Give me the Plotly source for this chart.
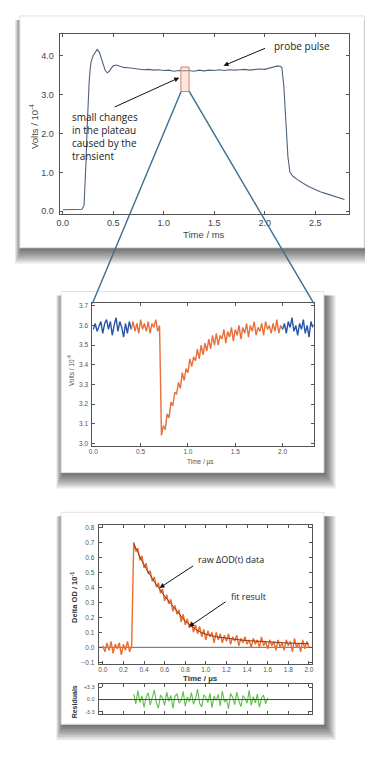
import plotly.graph_objects as go

W, H = 373, 759

# ---------------- data ----------------
# Panel 1: probe pulse (time in ms, volts / 1e-4)
pulse_t = [0.0, 0.05, 0.10, 0.15, 0.19, 0.21, 0.22, 0.23, 0.24, 0.25, 0.26, 0.27, 0.28, 0.30, 0.32,
           0.34, 0.36, 0.38, 0.40, 0.42, 0.44, 0.46, 0.48, 0.50, 0.53, 0.56, 0.60, 0.65, 0.70, 0.75,
           0.80, 0.85, 0.90, 0.95, 1.00, 1.05, 1.10, 1.15, 1.20, 1.25, 1.30, 1.35, 1.40, 1.45, 1.50,
           1.55, 1.60, 1.65, 1.70, 1.75, 1.80, 1.85, 1.90, 1.95, 2.00, 2.05, 2.10, 2.13, 2.15, 2.17,
           2.19, 2.21, 2.23, 2.25, 2.28, 2.32, 2.36, 2.40, 2.45, 2.50, 2.55, 2.60, 2.65, 2.70, 2.75, 2.79]
pulse_v = [0.04, 0.04, 0.04, 0.04, 0.05, 0.15, 0.60, 1.30, 2.10, 2.80, 3.30, 3.65, 3.85, 4.00, 4.10,
           4.16, 4.10, 3.95, 3.75, 3.62, 3.56, 3.60, 3.68, 3.74, 3.76, 3.73, 3.70, 3.69, 3.67, 3.66,
           3.64, 3.65, 3.63, 3.64, 3.62, 3.63, 3.60, 3.62, 3.61, 3.62, 3.60, 3.63, 3.61, 3.63, 3.62,
           3.64, 3.62, 3.64, 3.63, 3.64, 3.65, 3.63, 3.65, 3.66, 3.65, 3.68, 3.72, 3.74, 3.73, 3.70,
           3.20, 2.30, 1.40, 1.00, 0.90, 0.82, 0.75, 0.69, 0.62, 0.55, 0.50, 0.46, 0.42, 0.38, 0.35, 0.30]

# Panel 2: zoomed transient (time in us, step 0.02)
zoom_step = 0.02
pre_blue_t0 = 0.0
pre_blue_v = [3.58, 3.61, 3.57, 3.60, 3.62, 3.56, 3.61, 3.63, 3.58, 3.62, 3.55, 3.60, 3.64, 3.57,
              3.62, 3.59, 3.54, 3.61, 3.56, 3.62, 3.58]
orange_t0 = 0.40
orange_v = [3.58, 3.62, 3.57, 3.61, 3.56, 3.63, 3.58, 3.61, 3.57, 3.62, 3.56, 3.61, 3.59, 3.63, 3.57, 3.60,
            3.04, 3.09, 3.07, 3.15, 3.13, 3.21, 3.19, 3.26, 3.25, 3.31, 3.28, 3.36, 3.32, 3.38, 3.36,
            3.43, 3.39, 3.44, 3.42, 3.48, 3.43, 3.50, 3.45, 3.51, 3.47, 3.53, 3.48, 3.55, 3.50, 3.56,
            3.50, 3.55, 3.53, 3.58, 3.51, 3.57, 3.54, 3.59, 3.52, 3.58, 3.55, 3.60, 3.53, 3.59, 3.56,
            3.61, 3.54, 3.60, 3.57, 3.62, 3.55, 3.59, 3.57, 3.61, 3.55, 3.62, 3.58, 3.60, 3.56, 3.61,
            3.57, 3.63, 3.56, 3.60, 3.58]
post_blue_t0 = 2.00
post_blue_v = [3.58, 3.61, 3.56, 3.62, 3.59, 3.64, 3.57, 3.60, 3.55, 3.61, 3.58, 3.63, 3.56, 3.60, 3.54,
               3.62, 3.59]

# Panel 3: delta OD / 1e-1 (time in us, step 0.02)
od_step = 0.02
od_t0 = 0.0
od_raw = [0.01, -0.03, 0.03, -0.02, 0.04, -0.04, 0.02, -0.01, 0.03, -0.05, 0.02, -0.02, 0.04, -0.03, 0.01,
          0.70, 0.64, 0.66, 0.58, 0.61, 0.53, 0.56, 0.49, 0.51, 0.44, 0.47, 0.40, 0.43, 0.36, 0.39,
          0.31, 0.35, 0.29, 0.32, 0.24, 0.28, 0.22, 0.25, 0.17, 0.22, 0.15, 0.19, 0.13, 0.17, 0.10,
          0.15, 0.09, 0.14, 0.07, 0.12, 0.05, 0.11, 0.07, 0.10, 0.03, 0.10, 0.05, 0.09, 0.03, 0.08,
          0.04, 0.09, 0.02, 0.07, 0.04, 0.08, 0.01, 0.06, 0.03, 0.07, 0.02, 0.05, 0.00, 0.06, 0.02,
          0.05, 0.00, 0.07, 0.01, 0.04, -0.01, 0.05, 0.01, 0.04, -0.02, 0.05, 0.00, 0.03, -0.02, 0.05,
          0.01, 0.04, -0.03, 0.06, 0.00, 0.03, -0.03, 0.05, -0.01, 0.04, 0.00]
fit_t = [0.30, 0.34, 0.38, 0.42, 0.46, 0.50, 0.55, 0.60, 0.65, 0.70, 0.75, 0.80, 0.85, 0.90, 0.95,
         1.00, 1.10, 1.20, 1.30, 1.40, 1.50, 1.60, 1.70, 1.80, 1.90, 2.00]
fit_v = [0.69, 0.63, 0.575, 0.525, 0.475, 0.435, 0.39, 0.34, 0.30, 0.255, 0.215, 0.175, 0.145, 0.12, 0.10,
         0.087, 0.07, 0.06, 0.052, 0.045, 0.04, 0.035, 0.031, 0.028, 0.026, 0.024]
resid_t0 = 0.30
resid_v = [1.5, -1.2, 2.4, -0.8, 1.0, -2.1, 0.6, 1.8, -1.5, 0.3, 2.6, -0.9, -2.3, 1.2, 0.4, -1.6, 2.0,
           -0.5, 1.1, -2.4, 0.8, 1.6, -1.0, -0.2, 2.2, -1.8, 0.7, -0.6, 1.9, -1.3, 0.2, 2.8, -1.1,
           -2.0, 1.3, 0.5, -0.8, 1.7, -2.2, 0.9, -0.3, 1.4, -1.7, 2.3, -0.7, 0.1, -2.5, 1.6, 0.6,
           -1.4, 2.0, -0.4, -1.9, 1.1, 0.3, -1.0, 2.5, -1.6, 0.8, -0.9, 1.5, -2.1, 0.4, 1.2, -1.2, 0.5]

p1_xticks = [0.0, 0.5, 1.0, 1.5, 2.0, 2.5]
p1_yticks = [0.0, 1.0, 2.0, 3.0, 4.0]
p2_xticks = [0.0, 0.5, 1.0, 1.5, 2.0]
p2_yticks = [3.0, 3.1, 3.2, 3.3, 3.4, 3.5, 3.6, 3.7]
p3_xticks = [0.0, 0.2, 0.4, 0.6, 0.8, 1.0, 1.2, 1.4, 1.6, 1.8, 2.0]
p3_yticks = [-0.1, 0.0, 0.1, 0.2, 0.3, 0.4, 0.5, 0.6, 0.7, 0.8]
res_yticks = [-3.3, 0.0, 3.3]
res_ylabels = ["-3.3", "0.0", "+3.3"]
zoom_box = dict(t0=1.17, t1=1.25, v0=3.08, v1=3.71)


def X(px):
    return px / W


def Y(py):
    return 1 - py / H


fig = go.Figure()

fig.add_trace(go.Scatter(x=pulse_t, y=pulse_v, mode="lines", xaxis="x", yaxis="y",
                         line=dict(color="#50627e", width=1.1)))
fig.add_trace(go.Scatter(y=pre_blue_v, x0=pre_blue_t0, dx=zoom_step, mode="lines", xaxis="x2", yaxis="y2",
                         line=dict(color="#2b55a8", width=1.4)))
fig.add_trace(go.Scatter(y=orange_v, x0=orange_t0, dx=zoom_step, mode="lines", xaxis="x2", yaxis="y2",
                         line=dict(color="#e8703a", width=1.4)))
fig.add_trace(go.Scatter(y=post_blue_v, x0=post_blue_t0, dx=zoom_step, mode="lines", xaxis="x2", yaxis="y2",
                         line=dict(color="#2b55a8", width=1.4)))
fig.add_trace(go.Scatter(y=od_raw, x0=od_t0, dx=od_step, mode="lines", xaxis="x3", yaxis="y3",
                         line=dict(color="#ea6d2e", width=1.4)))
fig.add_trace(go.Scatter(x=fit_t, y=fit_v, mode="lines", xaxis="x3", yaxis="y3",
                         line=dict(color="#8a3a14", width=1)))
fig.add_trace(go.Scatter(y=resid_v, x0=resid_t0, dx=od_step, mode="lines", xaxis="x4", yaxis="y4",
                         line=dict(color="#5cc04a", width=1.1)))

tickfont_big = dict(family="Liberation Sans", size=9, color="#444")
tickfont_small = dict(family="Liberation Sans", size=6.5, color="#555")


def ax(domain, rng, ticks, font, anchor, labels=None, showlabels=True, fmt=".1f", standoff=None):
    d = dict(domain=domain, range=rng, anchor=anchor, tickvals=ticks, tickformat=fmt,
             showline=True, linecolor="#555", linewidth=1, mirror="ticks", ticks="inside",
             ticklen=3, tickcolor="#555", showgrid=False, zeroline=False, tickfont=font,
             showticklabels=showlabels, fixedrange=True)
    if labels is not None:
        d["ticktext"] = labels
    if standoff is not None:
        d["ticklabelstandoff"] = standoff
    return d


layout = dict(
    width=W, height=H, margin=dict(l=0, r=0, t=0, b=0),
    paper_bgcolor="white", plot_bgcolor="rgba(0,0,0,0)", showlegend=False,
    xaxis=ax([X(48.3), X(343)], [-0.033, 2.84], p1_xticks, tickfont_big, "y"),
    yaxis=ax([Y(205), Y(24)], [-0.069, 4.563], p1_yticks, tickfont_big, "x", standoff=3),
    xaxis2=ax([X(81.7), X(306.7)], [-0.01, 2.33], p2_xticks, tickfont_small, "y2"),
    yaxis2=ax([Y(438), Y(295)], [2.988, 3.712], p2_yticks, tickfont_small, "x2", standoff=2),
    xaxis3=ax([X(88), X(305)], [-0.041, 2.031], p3_xticks, tickfont_small, "y3"),
    yaxis3=ax([Y(657), Y(518)], [-0.108, 0.813], p3_yticks, tickfont_small, "x3", standoff=2),
    xaxis4=ax([X(88), X(305)], [-0.041, 2.031], p3_xticks, tickfont_small, "y4", showlabels=False),
    yaxis4=ax([Y(708), Y(678)], [-4.0, 4.1], res_yticks, dict(family="Liberation Sans", size=5.5, color="#555"),
              "x4", labels=res_ylabels, standoff=2),
)

shapes = []
cards = [(8, 6, 358, 239), (50, 283, 317, 465), (50, 505, 317, 718)]
for (L, T, R, B) in cards:
    for i in range(1, 11):
        shapes.append(dict(type="rect", xref="paper", yref="paper", layer="below",
                           x0=X(L - i * 0.7 + 2), x1=X(R + i * 1.2), y0=Y(B + i * 1.6), y1=Y(T + 4),
                           fillcolor="rgba(0,0,0,0.075)", line=dict(width=0)))
for (L, T, R, B) in cards:
    shapes.append(dict(type="rect", xref="paper", yref="paper", layer="below",
                       x0=X(L), x1=X(R), y0=Y(B), y1=Y(T),
                       fillcolor="white", line=dict(color="#e2e2e2", width=1)))

# zoom box on the plateau
shapes.append(dict(type="rect", xref="x", yref="y", layer="above",
                   x0=zoom_box["t0"], x1=zoom_box["t1"], y0=zoom_box["v0"], y1=zoom_box["v1"],
                   fillcolor="rgba(250,200,180,0.45)", line=dict(color="#d0806a", width=1)))
# connector lines
shapes.append(dict(type="line", xref="paper", yref="paper", layer="above",
                   x0=X(171.9), y0=Y(81.9), x1=X(81.7), y1=Y(295), line=dict(color="#3b6e8c", width=1.4)))
shapes.append(dict(type="line", xref="paper", yref="paper", layer="above",
                   x0=X(180.1), y0=Y(81.9), x1=X(306.7), y1=Y(295), line=dict(color="#3b6e8c", width=1.4)))
# zero lines in panel 3 and residuals
shapes.append(dict(type="line", xref="x3 domain", yref="y3", x0=0, x1=1, y0=0, y1=0,
                   line=dict(color="#666", width=1), layer="below"))
shapes.append(dict(type="line", xref="x4 domain", yref="y4", x0=0, x1=1, y0=0, y1=0,
                   line=dict(color="#444", width=1), layer="above"))
layout["shapes"] = shapes

txt = "Open Sans"
annotations = [
    # axis titles
    dict(x=X(23), y=Y(117), text="Volts / 10<sup>-4</sup>", textangle=-90,
         font=dict(family="Liberation Sans", size=9.5, color="#444")),
    dict(x=X(195), y=Y(226), text="Time / ms", font=dict(family="Liberation Sans", size=9.5, color="#444")),
    dict(x=X(60), y=Y(363), text="Volts / 10<sup>-4</sup>", textangle=-90,
         font=dict(family="Liberation Sans", size=6.5, color="#555")),
    dict(x=X(192), y=Y(454), text="Time / µs", font=dict(family="Liberation Sans", size=6.5, color="#555")),
    dict(x=X(63), y=Y(590), text="<b>Delta OD / 10<sup>-1</sup></b>", textangle=-90,
         font=dict(family="Liberation Sans", size=7.5, color="#333")),
    dict(x=X(192), y=Y(672), text="<b>Time / µs</b>", font=dict(family="Liberation Sans", size=8, color="#333")),
    dict(x=X(63), y=Y(695), text="<b>Residuals</b>", textangle=-90,
         font=dict(family="Liberation Sans", size=7, color="#333")),
    # callouts
    dict(x=X(264), y=Y(36), xanchor="left", text="probe pulse", font=dict(family=txt, size=10, color="#222")),
    dict(x=X(59), y=Y(127), xanchor="left", align="left",
         text="small changes<br>in the plateau<br>caused by the<br>transient",
         font=dict(family=txt, size=10, color="#222")),
    dict(x=X(187), y=Y(552), xanchor="left", text="raw ΔOD(t) data", font=dict(family=txt, size=9, color="#222")),
    dict(x=X(221), y=Y(590), xanchor="left", text="fit result", font=dict(family=txt, size=9, color="#222")),
]
arrows = [((215, 56), (258, 38)), ((170, 68), (104, 98)), ((150, 581), (185, 558)), ((180, 620), (218, 594))]
for (hx, hy), (tx, ty) in arrows:
    annotations.append(dict(x=X(hx), y=Y(hy), xref="paper", yref="paper", text="", showarrow=True,
                            ax=tx - hx, ay=ty - hy, arrowhead=2, arrowsize=1, arrowwidth=1,
                            arrowcolor="#111"))
for a in annotations:
    a.setdefault("xref", "paper")
    a.setdefault("yref", "paper")
    a.setdefault("showarrow", False)
    a.setdefault("xanchor", "center")
    a.setdefault("yanchor", "middle")
layout["annotations"] = annotations

fig.update_layout(**layout)
fig.write_html("out.html")
